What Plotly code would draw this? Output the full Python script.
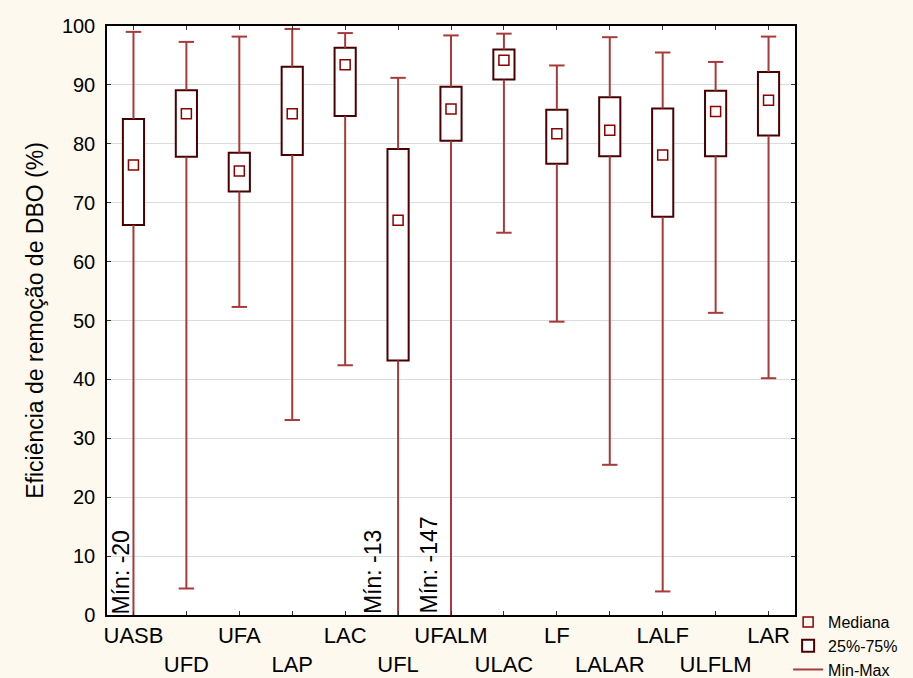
import plotly.graph_objects as go

# Sistemas de tratamento
categories = ["UASB", "UFD", "UFA", "LAP", "LAC", "UFL", "UFALM",
              "ULAC", "LF", "LALAR", "LALF", "ULFLM", "LAR"]

# Eficiência de remoção de DBO (%)
median_vals = [76.4, 85.1, 75.4, 85.1, 93.4, 67.0, 85.9, 94.2, 81.7, 82.3, 78.1, 85.5, 87.4]
q1_vals = [66.2, 77.8, 71.9, 78.1, 84.7, 43.2, 80.5, 90.9, 76.6, 77.9, 67.6, 77.9, 81.4]
q3_vals = [84.2, 89.1, 78.5, 93.1, 96.3, 79.1, 89.7, 96.0, 85.8, 87.9, 86.0, 89.0, 92.2]
min_vals = [-20, 4.5, 52.3, 33.1, 42.4, -13, -147, 64.9, 49.8, 25.5, 4.0, 51.3, 40.2]
max_vals = [99.0, 97.3, 98.2, 99.5, 98.8, 91.2, 98.4, 98.7, 93.3, 98.1, 95.5, 93.9, 98.2]

y_ticks = [0, 10, 20, 30, 40, 50, 60, 70, 80, 90, 100]

WHISKER = "#a83a3a"
BOX_EDGE = "#4a0000"
MEDIAN = "#8b0000"
FONT = "Liberation Sans, Arial, sans-serif"

# whisker segments: q3 -> max and min -> q1
wx, wy = [], []
for c, lo, hi, a, b in zip(categories, q1_vals, q3_vals, min_vals, max_vals):
    wx += [c, c, None, c, c, None]
    wy += [hi, b, None, a, lo, None]

fig = go.Figure()

fig.add_trace(go.Bar(
    x=categories,
    y=[h - l for l, h in zip(q1_vals, q3_vals)],
    base=q1_vals,
    width=0.4,
    marker=dict(color="white", line=dict(color=BOX_EDGE, width=2)),
    name="25%-75%",
    legendrank=2,
    hoverinfo="skip",
))

fig.add_trace(go.Scatter(
    x=wx, y=wy, mode="lines",
    line=dict(color=WHISKER, width=2),
    connectgaps=False,
    name="Min-Max",
    legendrank=3,
    hoverinfo="skip",
))

# whisker caps
fig.add_trace(go.Scatter(
    x=categories + categories,
    y=max_vals + min_vals,
    mode="markers",
    marker=dict(symbol="line-ew", size=11, line=dict(color=WHISKER, width=2)),
    showlegend=False,
    hoverinfo="skip",
))

fig.add_trace(go.Scatter(
    x=categories, y=median_vals, mode="markers",
    marker=dict(symbol="square-open", size=10, color=MEDIAN,
                line=dict(color=MEDIAN, width=1.5)),
    name="Mediana",
    legendrank=1,
))

# labels for minima below the axis range
label_shift = {"UASB": -12, "UFL": -25, "UFALM": -23}
for c, v in zip(categories, min_vals):
    if v < 0:
        fig.add_annotation(
            x=c, y=0, xref="x", yref="y",
            text=f"Mín: {v:g}", textangle=-90,
            showarrow=False, yanchor="bottom", xanchor="center",
            xshift=label_shift.get(c, -20), borderpad=0,
            font=dict(family=FONT, size=23, color="black"),
        )

# tick labels alternate between two rows
tick_text = [c if i % 2 == 0 else "<br>" + c for i, c in enumerate(categories)]

fig.update_layout(
    width=913, height=678,
    margin=dict(l=107, r=118, t=26, b=63, autoexpand=False),
    paper_bgcolor="#fdf9ee",
    plot_bgcolor="white",
    font=dict(family=FONT, color="black"),
    showlegend=True,
    legend=dict(
        x=0.99, xanchor="left", y=0.017, yanchor="top",
        font=dict(size=16, color="black"),
        bgcolor="rgba(0,0,0,0)",
        tracegroupgap=0, itemwidth=30,
    ),
    bargap=0.6,
)

fig.update_xaxes(
    type="category",
    tickmode="array", tickvals=categories, ticktext=tick_text,
    tickfont=dict(size=22, color="black"),
    tickangle=0, automargin=False,
    showline=True, linecolor="black", linewidth=1.5, mirror="ticks",
    ticks="inside", ticklen=4, tickcolor="#333333",
    showgrid=False, zeroline=False,
    range=[-0.5, len(categories) - 0.5],
)

fig.update_yaxes(
    range=[0, 100],
    tickmode="array", tickvals=y_ticks,
    tickfont=dict(size=20, color="black"),
    ticklabelstandoff=6, automargin=False,
    showline=True, linecolor="black", linewidth=1.5, mirror="ticks",
    ticks="inside", ticklen=4, tickcolor="#333333",
    showgrid=True, gridcolor="#dcdcdc", gridwidth=1,
    zeroline=False,
    title=dict(text="Eficiência de remoção de DBO (%)",
               font=dict(size=23, color="black"), standoff=12),
)

fig.write_html("out.html")
